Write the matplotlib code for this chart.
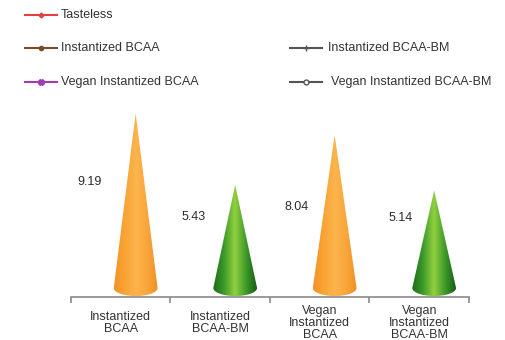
import numpy as np
import matplotlib
matplotlib.use("Agg")
import matplotlib.pyplot as plt
from matplotlib.path import Path
from matplotlib.patches import PathPatch
from matplotlib.lines import Line2D
from matplotlib.colors import LinearSegmentedColormap

plt.rcParams['font.family'] = ['Liberation Sans', 'DejaVu Sans']

categories = ["Instantized\nBCAA", "Instantized\nBCAA-BM", "Vegan\nInstantized\nBCAA", "Vegan\nInstantized\nBCAA-BM"]
values = [9.19, 5.43, 8.04, 5.14]
value_labels = ["9.19", "5.43", "8.04", "5.14"]
legend_names = ["Tasteless", "Instantized BCAA", "Instantized BCAA-BM",
                "Vegan Instantized BCAA", "Vegan Instantized BCAA-BM"]

# style
cone_kind = ["orange", "green", "orange", "green"]
label_y = [5.58, 3.74, 4.26, 3.68]
label_dx = [-0.46, -0.42, -0.38, -0.34]
FS = 9

cmaps = {
    "orange": LinearSegmentedColormap.from_list("o", ["#f39226", "#f8a536", "#fcb44c", "#f9a73c", "#f08e24"]),
    "green": LinearSegmentedColormap.from_list("g", ["#1d6c1a", "#3c9a2a", "#92d040", "#3f9a2a", "#175e16"]),
}

W, H = 506, 340
fig = plt.figure(figsize=(W / 100, H / 100), dpi=100)
ax_left, ax_right = 71 / W, 469 / W
ax_bottom, ax_top = (H - 297) / H, (H - 100) / H
ax = fig.add_axes([ax_left, ax_bottom, ax_right - ax_left, ax_top - ax_bottom])

px_per_unit = 19.0
ymin = -9 / px_per_unit
ymax = ymin + 197 / px_per_unit
ax.set_xlim(-0.5, len(values) - 0.5)
ax.set_ylim(ymin, ymax)

x = np.arange(len(values))
offset = 0.15
hw = 0.22
eh = 8 / px_per_unit
grad = np.linspace(0, 1, 256).reshape(1, -1)

for xi, v, kind in zip(x, values, cone_kind):
    xc = xi + offset
    t = np.linspace(np.pi, 2 * np.pi, 40)
    ex = xc + hw * np.cos(t)
    ey = eh * np.sin(t)
    verts = [(xc, v), (xc - hw, 0)] + list(zip(ex, ey)) + [(xc + hw, 0), (xc, v)]
    codes = [Path.MOVETO] + [Path.LINETO] * (len(verts) - 2) + [Path.CLOSEPOLY]
    patch = PathPatch(Path(verts, codes), facecolor='none', edgecolor='none', transform=ax.transData)
    ax.add_patch(patch)
    im = ax.imshow(grad, cmap=cmaps[kind], aspect='auto',
                   extent=[xc - hw, xc + hw, -eh, v], interpolation='bilinear', zorder=2)
    im.set_clip_path(patch)

for xi, lab, ly, dx in zip(x, value_labels, label_y, label_dx):
    ax.text(xi + offset + dx, ly, lab, ha='center', va='center', fontsize=FS, color='#2a2a2a')

ax.set_xlim(-0.5, len(values) - 0.5)
ax.set_ylim(ymin, ymax)

for s in ['top', 'right', 'left']:
    ax.spines[s].set_visible(False)
ax.spines['bottom'].set_color('#8a8a8a')
ax.spines['bottom'].set_linewidth(1.2)
ax.set_yticks([])
ax.set_xticks(x)
ax.set_xticklabels(categories, fontsize=FS, color='#333333', linespacing=1.0)
ax.tick_params(axis='x', which='major', length=0, pad=19)
for tl in ax.get_xticklabels():
    tl.set_verticalalignment('center')
ax.set_xticks(np.arange(-0.5, len(values), 1.0), minor=True)
ax.tick_params(axis='x', which='minor', length=4, width=1.2, color='#8a8a8a')

# legend (manual)
leg_colors = ["#e2403a", "#7a4a2a", "#555555", "#a03cb4", "#555555"]
leg_markers = ["D", "o", "+", "X", "o"]
leg_msize = [2.5, 3, 5, 4, 3.5]
leg_pos = [(25, 15), (25, 48), (290, 48), (25, 82), (290, 82)]
text_dx = [36, 36, 38, 36, 41]
for name, c, m, ms, (lx, ly), tdx in zip(legend_names, leg_colors, leg_markers, leg_msize, leg_pos, text_dx):
    fx0, fx1 = lx / W, (lx + 32) / W
    fy = (H - ly) / H
    fig.add_artist(Line2D([fx0, fx1], [fy, fy], color=c, lw=1.5, transform=fig.transFigure))
    mfc = 'white' if (m == 'o' and name.endswith('BCAA-BM')) else c
    fig.add_artist(Line2D([(fx0 + fx1) / 2], [fy], color=c, marker=m, markersize=ms,
                          markerfacecolor=mfc, markeredgecolor=c, lw=0, transform=fig.transFigure))
    fig.text((lx + tdx) / W, fy, name, ha='left', va='center', fontsize=FS, color='#333333')

fig.savefig("out.png", dpi=100)
